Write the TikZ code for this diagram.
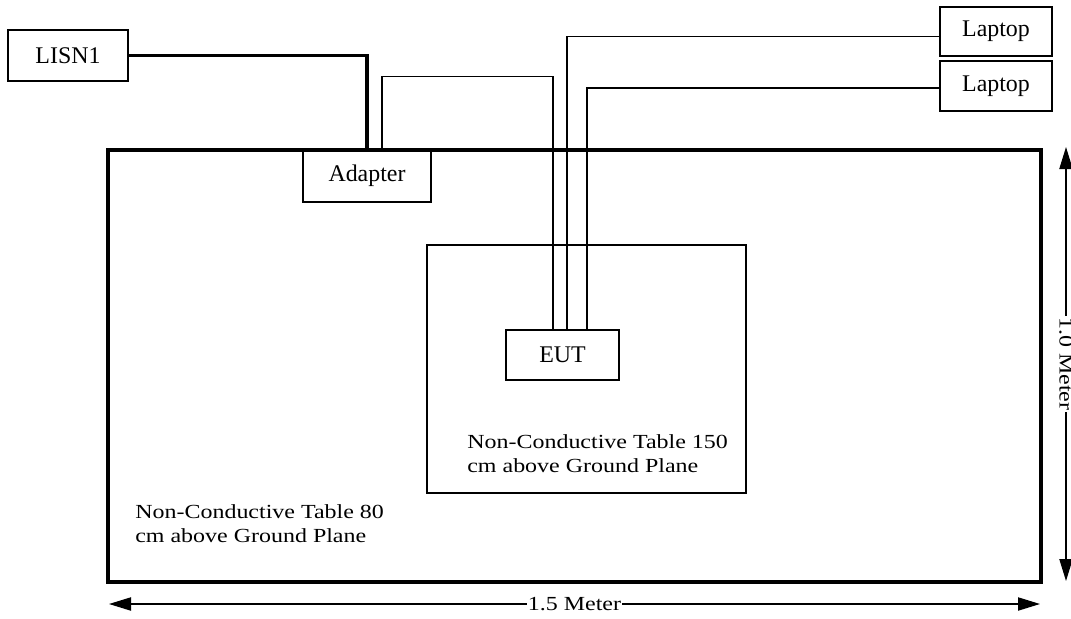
\documentclass[tikz,border=0pt]{standalone}
\usepackage{fontspec}
\setmainfont{Liberation Serif}
\usetikzlibrary{arrows.meta,calc}

\begin{document}
\begin{tikzpicture}[x=0.025cm,y=-0.025cm,>={Triangle[length=0.55cm,width=0.33cm]},
  box/.style={draw,line width=1pt,inner sep=0pt,font=\fontsize{17pt}{20pt}\selectfont},
  wire/.style={line width=1.1pt},
  note/.style={align=left,inner sep=0pt,anchor=north west,xscale=1.2,font=\fontsize{14.2pt}{17.1pt}\selectfont},
  dim/.style={<->,line width=1pt}]
\useasboundingbox (0,0) rectangle (1071,618);
% tables
\node[draw,line width=2.5pt,minimum width=23.325cm,minimum height=10.8cm] (T80) at (574.5,366) {};
\node[draw,line width=1pt,minimum width=7.975cm,minimum height=6.2cm] (T150) at (586.5,369) {};
\node[note] (N80) at (135,504) {Non-Conductive Table 80\\cm above Ground Plane};
\node[note] (N150) at (467,434) {Non-Conductive Table 150\\cm above Ground Plane};
% equipment
\node[box,minimum width=3cm,minimum height=1.275cm] (LISN) at (68,55.5) {LISN1};
\node[box,minimum width=3.2cm,minimum height=1.3cm] (Ad) at (367,176) {Adapter};
\node[box,minimum width=2.825cm,minimum height=1.25cm] (EUT) at (562.5,355) {EUT};
\node[box,minimum width=2.8cm,minimum height=1.225cm] (LapA) at (996,31.5) {Laptop};
\node[box,minimum width=2.8cm,minimum height=1.25cm] (LapB) at (996,86) {Laptop};
% cables
\draw[line width=2.2pt] (LISN.east) -| (Ad.north);
\draw[wire] ($(Ad.north)+(15,0)$) -- ++(0,-73) -| ($(EUT.north)+(-9.5,0)$);
\draw[wire] ($(LapA.west)+(0,5)$) -| ($(EUT.north)+(4.5,0)$);
\draw[wire] ($(LapB.west)+(0,2)$) -| ($(EUT.north)+(24.5,0)$);
% dimensions
\coordinate (hL) at (109,604);
\coordinate (hR) at (1040,604);
\coordinate (vT) at (1066,147);
\coordinate (vB) at (1066,581);
\draw[dim] (hL) -- node[fill=white,inner sep=1pt,font=\fontsize{14.2pt}{17pt}\selectfont] {\scalebox{1.2}[1]{1.5 Meter}} (hR);
\draw[dim] (vT) -- node[fill=white,inner sep=1pt,rotate=-90,font=\fontsize{14.2pt}{17pt}\selectfont] {\scalebox{1.2}[1]{1.0 Meter}} (vB);
\end{tikzpicture}
\end{document}
